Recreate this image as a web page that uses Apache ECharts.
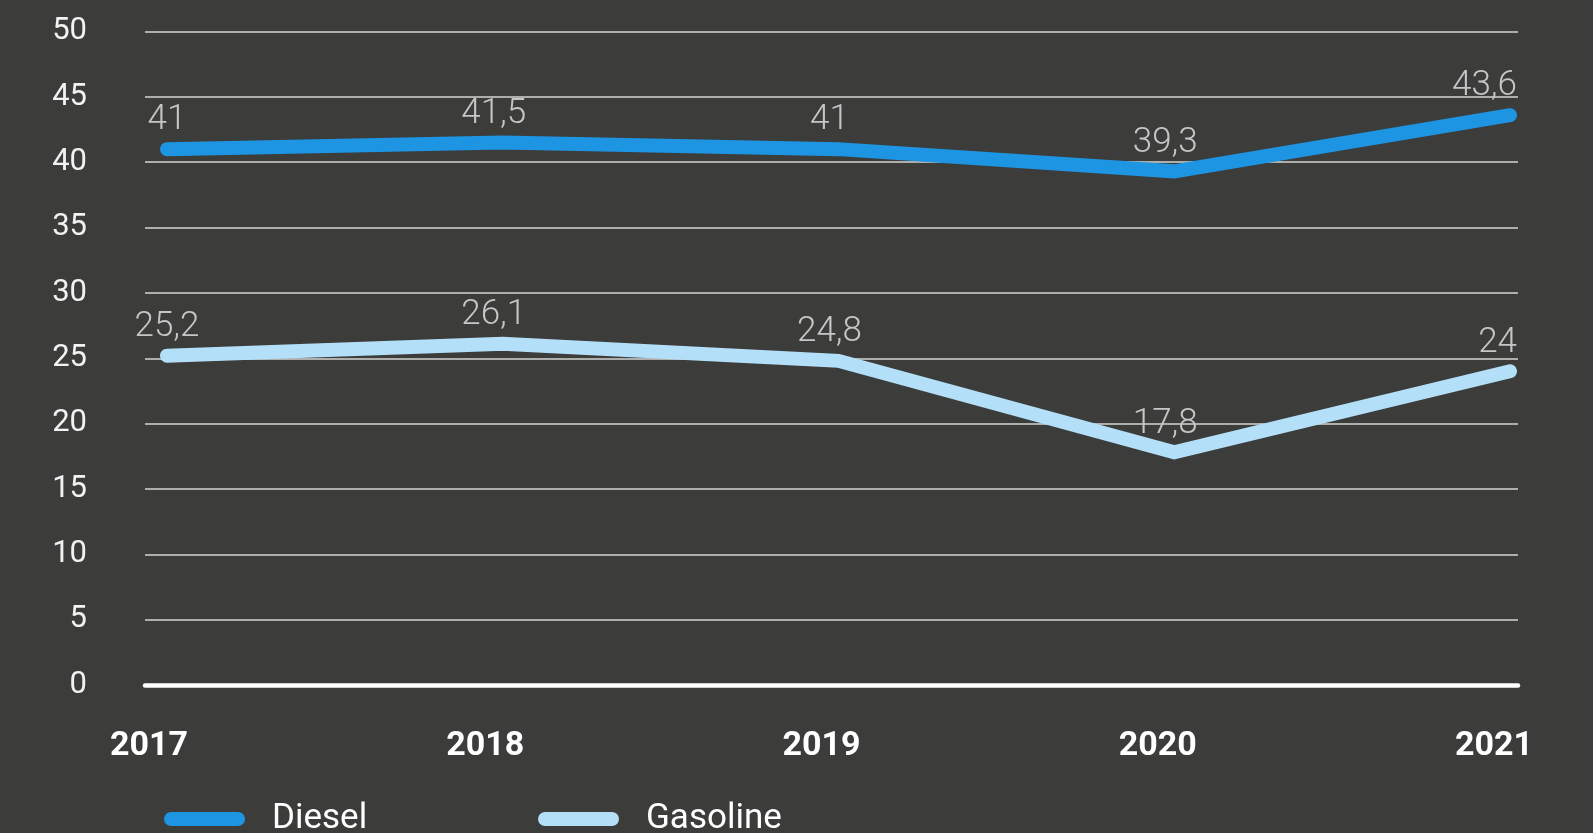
<!DOCTYPE html>
<html>
<head>
<meta charset="utf-8">
<script src="https://cdn.jsdelivr.net/npm/echarts@6/dist/echarts.min.js"></script>
<style>
html,body{margin:0;padding:0;background:#3c3c3b;}
#chart{width:1593px;height:833px;}
</style>
</head>
<body>
<div id="chart"></div>
<script>
var years = ['2017', '2018', '2019', '2020', '2021'];
var diesel = [41, 41.5, 41, 39.3, 43.6];
var gasoline = [25.2, 26.1, 24.8, 17.8, 24];
var seriesNames = ['Diesel', 'Gasoline'];
var yTicks = [0, 50, 5]; // min, max, interval

var FONT = 'Roboto, "Noto Sans", sans-serif';
var colors = {Diesel: '#1d95e3', Gasoline: '#b3e0f8'};
var pillIcon = 'path://M7,0L74,0A7,7,0,0,1,74,14L7,14A7,7,0,0,1,7,0Z';

function fmt(v) { return String(v).replace('.', ','); }

function buildData(arr) {
  return arr.map(function (v, i) {
    var item = {value: v};
    if (i === arr.length - 1) {
      item.label = {align: 'right', offset: [7, 0]};
    } else if (i > 0) {
      item.label = {offset: [-9, 0]};
    }
    return item;
  });
}

var chart = echarts.init(document.getElementById('chart'), null, {renderer: 'canvas'});

var gridTop = 31.5, gridBottom = 148;

function lineSeries(name, arr) {
  return {
    name: name, type: 'line', xAxisIndex: 1, yAxisIndex: 1,
    data: buildData(arr), showSymbol: true, symbol: 'circle', symbolSize: 1,
    color: colors[name],
    itemStyle: {color: 'rgba(0,0,0,0)', borderWidth: 0},
    lineStyle: {width: 14, color: colors[name], cap: 'round', join: 'miter'},
    label: {show: true, position: 'top', distance: 10, color: '#c6c6c6', fontFamily: FONT, fontSize: 35, fontWeight: 300, lineHeight: 36,
      formatter: function (p) { return fmt(p.value); }},
    emphasis: {disabled: true},
    z: 3
  };
}

function legendFor(name, left) {
  return {
    data: [{name: name, itemStyle: {color: colors[name], opacity: 1}}],
    left: left, top: 794, itemWidth: 81, itemHeight: 14, icon: pillIcon,
    itemStyle: {color: colors[name], opacity: 1},
    textStyle: {color: '#ffffff', fontFamily: FONT, fontSize: 35, lineHeight: 40, padding: [0, 0, 0, 22]}
  };
}

var option = {
  backgroundColor: '#3c3c3b',
  animation: false,
  grid: [
    {left: 145, right: 75, top: gridTop, bottom: gridBottom},
    {left: 167, right: 83, top: gridTop, bottom: gridBottom},
    {left: 149, right: 99, top: gridTop, bottom: gridBottom}
  ],
  xAxis: [
    {gridIndex: 0, type: 'category', data: years, boundaryGap: false,
     axisLine: {show: true, lineStyle: {color: '#ffffff', width: 4.5, cap: 'round'}},
     axisTick: {show: false}, axisLabel: {show: false}, splitLine: {show: false}, z: 5},
    {gridIndex: 1, type: 'category', data: years, boundaryGap: false, show: false},
    {gridIndex: 2, type: 'category', data: years, boundaryGap: false,
     axisLine: {show: false}, axisTick: {show: false}, splitLine: {show: false},
     axisLabel: {show: true, color: '#ffffff', fontFamily: FONT, fontSize: 34, fontWeight: 'bold', margin: 44}}
  ],
  yAxis: [
    {gridIndex: 0, type: 'value', min: yTicks[0], max: yTicks[1], interval: yTicks[2],
     axisLine: {show: false}, axisTick: {show: false},
     axisLabel: {color: '#f2f2f2', fontFamily: FONT, fontSize: 31, margin: 58, align: 'right', verticalAlign: 'middle', padding: [0, 0, 4, 0]},
     splitLine: {show: true, lineStyle: {color: '#d4d4d4', width: 1.5}}},
    {gridIndex: 1, type: 'value', min: yTicks[0], max: yTicks[1], interval: yTicks[2], show: false},
    {gridIndex: 2, type: 'value', min: yTicks[0], max: yTicks[1], interval: yTicks[2], show: false}
  ],
  legend: [
    legendFor(seriesNames[0], 159),
    legendFor(seriesNames[1], 533)
  ],
  series: [
    lineSeries(seriesNames[0], diesel),
    lineSeries(seriesNames[1], gasoline)
  ]
};
chart.setOption(option);
</script>
</body>
</html>
